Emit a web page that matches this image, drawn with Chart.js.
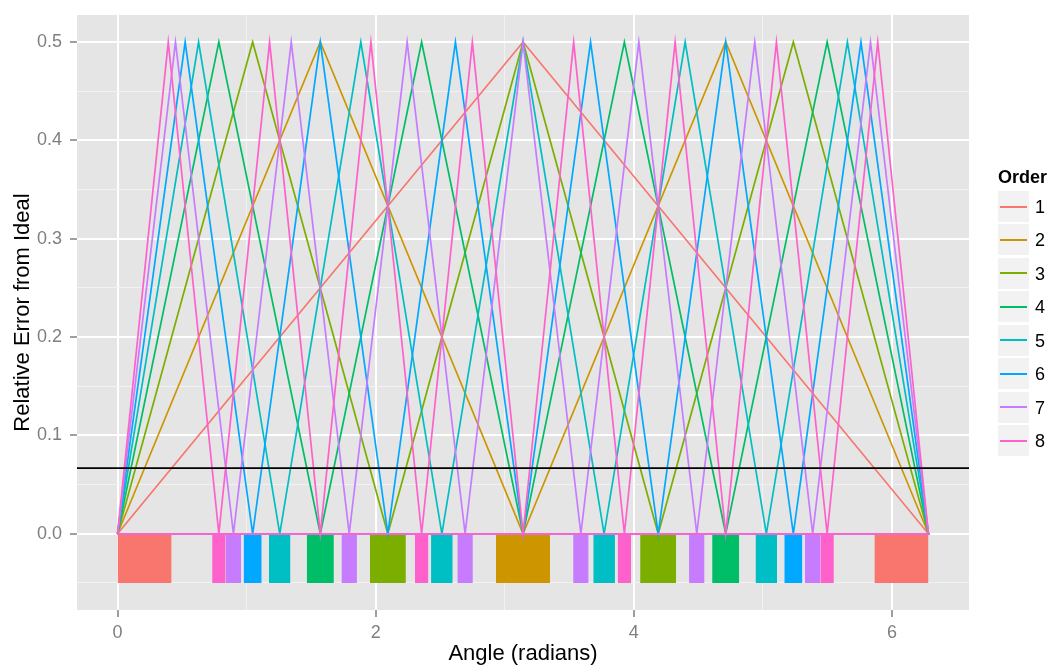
<!DOCTYPE html>
<html>
<head>
<meta charset="utf-8">
<script src="https://cdn.jsdelivr.net/npm/chart.js@4.4.1/dist/chart.umd.min.js"></script>
<style>
  body { margin: 0; background: #fff; font-family: "Liberation Sans", Arial, sans-serif; }
  #wrap { position: relative; width: 1051px; height: 667px; }
  #chart { position: absolute; left: 0; top: 0; }
  #legend { position: absolute; left: 998px; top: 167px; }
  #legend .title { font-weight: bold; font-size: 18px; line-height: 20px; height: 24px; }
  #legend .row { position: relative; height: 33.45px; }
  #legend .key { position: absolute; left: 0; top: 0; width: 31px; height: 31px; background: #F2F2F2; }
  #legend .key span { position: absolute; left: 2px; right: 2px; top: 14.5px; height: 2px; }
  #legend .lab { position: absolute; left: 37px; top: 5px; font-size: 18px; line-height: 22px; color: #000; }
</style>
</head>
<body>
<div id="wrap">
  <canvas id="chart" width="1051" height="667"></canvas>
  <div id="legend"></div>
</div>
<script>
// axis limits and ticks
const xMin = -0.314, xMax = 6.597;
const yMin = -0.0775, yMax = 0.5275;
const xTicks = [0, 1, 2, 3, 4, 5, 6];
const xLabeled = [0, 2, 4, 6];
const yTicks = [-0.05, 0, 0.05, 0.1, 0.15, 0.2, 0.25, 0.3, 0.35, 0.4, 0.45, 0.5];
const yLabeled = [0, 0.1, 0.2, 0.3, 0.4, 0.5];

const orderNames = ['1', '2', '3', '4', '5', '6', '7', '8'];
const orderColors = ['#F8766D', '#CD9600', '#7CAE00', '#00BE67', '#00BFC4', '#00A9FF', '#C77CFF', '#FF61CC'];

// error curves (angle, relative error), each path returns to 0 along the baseline
const angle1 = [0, 3.142, 6.283, 0];
const err1   = [0, 0.5, 0, 0];
const angle2 = [0, 1.571, 3.142, 4.712, 6.283, 0];
const err2   = [0, 0.5, 0, 0.5, 0, 0];
const angle3 = [0, 1.047, 2.094, 3.142, 4.189, 5.236, 6.283, 0];
const err3   = [0, 0.5, 0, 0.5, 0, 0.5, 0, 0];
const angle4 = [0, 0.785, 1.571, 2.356, 3.142, 3.927, 4.712, 5.498, 6.283, 0];
const err4   = [0, 0.5, 0, 0.5, 0, 0.5, 0, 0.5, 0, 0];
const angle5 = [0, 0.628, 1.257, 1.885, 2.513, 3.142, 3.770, 4.398, 5.027, 5.655, 6.283, 0];
const err5   = [0, 0.5, 0, 0.5, 0, 0.5, 0, 0.5, 0, 0.5, 0, 0];
const angle6 = [0, 0.524, 1.047, 1.571, 2.094, 2.618, 3.142, 3.665, 4.189, 4.712, 5.236, 5.760, 6.283, 0];
const err6   = [0, 0.5, 0, 0.5, 0, 0.5, 0, 0.5, 0, 0.5, 0, 0.5, 0, 0];
const angle7 = [0, 0.449, 0.898, 1.346, 1.795, 2.244, 2.693, 3.142, 3.590, 4.039, 4.488, 4.937, 5.386, 5.834, 6.283, 0];
const err7   = [0, 0.5, 0, 0.5, 0, 0.5, 0, 0.5, 0, 0.5, 0, 0.5, 0, 0.5, 0, 0];
const angle8 = [0, 0.393, 0.785, 1.178, 1.571, 1.963, 2.356, 2.749, 3.142, 3.534, 3.927, 4.320, 4.712, 5.105, 5.498, 5.890, 6.283, 0];
const err8   = [0, 0.5, 0, 0.5, 0, 0.5, 0, 0.5, 0, 0.5, 0, 0.5, 0, 0.5, 0, 0.5, 0, 0];

const angles = [angle1, angle2, angle3, angle4, angle5, angle6, angle7, angle8];
const errors = [err1, err2, err3, err4, err5, err6, err7, err8];

// threshold line
const threshold = 0.0667;

// bars under the curves: start, end, order
const rectStart = [0, 0.733, 0.838, 0.977, 1.173, 1.466, 1.735, 1.955, 2.304, 2.429, 2.633, 2.932,
                   3.530, 3.686, 3.875, 4.049, 4.428, 4.607, 4.943, 5.166, 5.326, 5.445, 5.864];
const rectEnd   = [0.419, 0.838, 0.957, 1.117, 1.340, 1.676, 1.855, 2.234, 2.409, 2.597, 2.753, 3.351,
                   3.650, 3.854, 3.979, 4.328, 4.548, 4.817, 5.110, 5.306, 5.445, 5.550, 6.283];
const rectOrder = [1, 8, 7, 6, 5, 4, 7, 3, 8, 5, 7, 2, 7, 5, 8, 3, 7, 4, 5, 6, 7, 8, 1];
const rectBottom = -0.05, rectTop = 0;

const isMajorX = v => xLabeled.some(t => Math.abs(t - v) < 1e-6);
const isMajorY = v => yLabeled.some(t => Math.abs(t - v) < 1e-6);

const datasets = [];

rectStart.forEach((s, i) => {
    datasets.push({
        data: [{ x: s, y: rectBottom }, { x: rectEnd[i], y: rectBottom }],
        fill: { value: rectTop },
        backgroundColor: orderColors[rectOrder[i] - 1],
        borderColor: 'rgba(0,0,0,0)',
        borderWidth: 0,
        pointRadius: 0,
        order: 20
    });
});

angles.forEach((xs, k) => {
    datasets.push({
        data: xs.map((x, j) => ({ x: x, y: errors[k][j] })),
        borderColor: orderColors[k],
        borderWidth: 1.7,
        pointRadius: 0,
        fill: false,
        tension: 0,
        order: 10 - k
    });
});

datasets.push({
    data: [{ x: xMin, y: threshold }, { x: xMax, y: threshold }],
    borderColor: '#000000',
    borderWidth: 1.8,
    pointRadius: 0,
    fill: false,
    order: 0
});

const panelBackground = {
    id: 'panelBackground',
    beforeDraw(chart) {
        const { ctx, chartArea } = chart;
        ctx.save();
        ctx.fillStyle = '#E5E5E5';
        ctx.fillRect(chartArea.left, chartArea.top, chartArea.right - chartArea.left, chartArea.bottom - chartArea.top);
        ctx.restore();
    }
};

const tickFont = { family: '"Liberation Sans", Arial, sans-serif', size: 18 };
const titleFont = { family: '"Liberation Sans", Arial, sans-serif', size: 22, lineHeight: 1.2 };

new Chart(document.getElementById('chart'), {
    type: 'line',
    data: { datasets: datasets },
    plugins: [panelBackground],
    options: {
        responsive: false,
        animation: false,
        devicePixelRatio: 1,
        layout: { padding: { top: 15, right: 82, left: 0, bottom: 0 } },
        plugins: { legend: { display: false }, tooltip: { enabled: false } },
        scales: {
            x: {
                type: 'linear',
                min: xMin,
                max: xMax,
                afterBuildTicks: scale => { scale.ticks = xTicks.map(v => ({ value: v })); },
                afterFit: scale => { scale.height = 57; scale.paddingLeft = 0; scale.paddingRight = 0; },
                border: { display: false },
                grid: {
                    color: c => isMajorX(c.tick.value) ? '#FFFFFF' : '#F2F2F2',
                    lineWidth: c => isMajorX(c.tick.value) ? 2 : 1,
                    tickColor: c => isMajorX(c.tick.value) ? '#7F7F7F' : 'rgba(0,0,0,0)',
                    tickWidth: 1.5,
                    tickLength: 7
                },
                ticks: {
                    autoSkip: false,
                    maxRotation: 0,
                    padding: 5,
                    color: '#7F7F7F',
                    font: tickFont,
                    callback: v => isMajorX(v) ? String(v) : ''
                },
                title: {
                    display: true,
                    text: 'Angle (radians)',
                    color: '#000000',
                    font: titleFont,
                    padding: { top: 0, bottom: 0 }
                }
            },
            y: {
                type: 'linear',
                min: yMin,
                max: yMax,
                afterBuildTicks: scale => { scale.ticks = yTicks.map(v => ({ value: v })); },
                afterFit: scale => { scale.width = 77; scale.paddingTop = 0; scale.paddingBottom = 0; },
                border: { display: false },
                grid: {
                    color: c => isMajorY(c.tick.value) ? '#FFFFFF' : '#F2F2F2',
                    lineWidth: c => isMajorY(c.tick.value) ? 2 : 1,
                    tickColor: c => isMajorY(c.tick.value) ? '#7F7F7F' : 'rgba(0,0,0,0)',
                    tickWidth: 1.5,
                    tickLength: 7
                },
                ticks: {
                    autoSkip: false,
                    padding: 8,
                    color: '#7F7F7F',
                    font: tickFont,
                    callback: v => isMajorY(v) ? v.toFixed(1) : ''
                },
                title: {
                    display: true,
                    text: 'Relative Error from Ideal',
                    color: '#000000',
                    font: titleFont,
                    padding: { top: 10, bottom: 0 }
                }
            }
        }
    }
});

// legend
const legend = document.getElementById('legend');
let html = '<div class="title">Order</div>';
orderNames.forEach((name, i) => {
    html += '<div class="row"><div class="key"><span style="background:' + orderColors[i] + '"></span></div>' +
            '<div class="lab">' + name + '</div></div>';
});
legend.innerHTML = html;
</script>
</body>
</html>
